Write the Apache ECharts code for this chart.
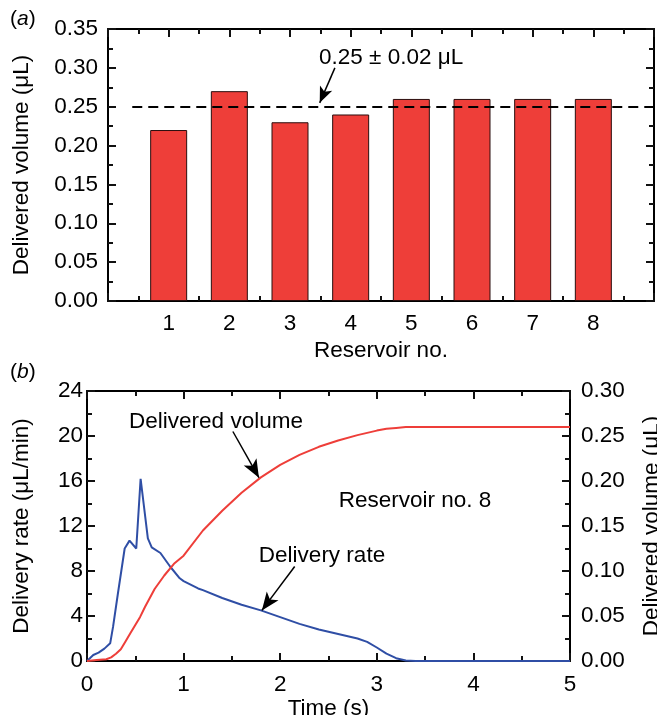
<!DOCTYPE html>
<html>
<head>
<meta charset="utf-8">
<script src="https://cdn.jsdelivr.net/npm/echarts@6/dist/echarts.min.js"></script>
<style>
html,body{margin:0;padding:0;background:#fff;}
#main{width:657px;height:715px;}
</style>
</head>
<body>
<div id="main"></div>
<script>
// ---- Panel (a) data ----
const reservoirs = [1, 2, 3, 4, 5, 6, 7, 8];
const deliveredVolumes = [0.22, 0.27, 0.23, 0.24, 0.26, 0.26, 0.26, 0.26];
const targetVolume = 0.25;
const targetLineStartX = 0.4;
const arrowA = [[3.74, 0.300], [3.49, 0.255]];

// ---- Panel (b) data ----
const rateTime = [0, 0.065, 0.12, 0.18, 0.24, 0.27, 0.32, 0.39, 0.44, 0.51, 0.555, 0.63, 0.67, 0.76, 0.86, 0.96, 1.0, 1.15, 1.2, 1.4, 1.6, 1.8, 2.0, 2.2, 2.4, 2.6, 2.8, 2.9, 3.0, 3.1, 3.2, 3.3, 3.4, 4.0, 5.0];
const rateValues = [0, 0.53, 0.74, 1.1, 1.57, 3.05, 6.0, 10.0, 10.7, 10.0, 16.2, 10.9, 10.1, 9.6, 8.4, 7.35, 7.1, 6.45, 6.3, 5.6, 5.0, 4.5, 3.9, 3.3, 2.8, 2.4, 2.0, 1.7, 1.2, 0.65, 0.25, 0.05, 0, 0, 0];
const volTime = [0, 0.1, 0.2, 0.25, 0.3, 0.35, 0.4, 0.45, 0.5, 0.55, 0.6, 0.7, 0.8, 0.9, 1.0, 1.2, 1.4, 1.6, 1.8, 2.0, 2.2, 2.4, 2.6, 2.8, 3.0, 3.1, 3.2, 3.3, 3.5, 4.0, 5.0];
const volValues = [0, 0.001, 0.002, 0.004, 0.008, 0.013, 0.022, 0.031, 0.040, 0.049, 0.060, 0.080, 0.095, 0.108, 0.117, 0.145, 0.167, 0.187, 0.204, 0.218, 0.229, 0.238, 0.245, 0.251, 0.256, 0.258, 0.259, 0.26, 0.26, 0.26, 0.26];
const arrowVolume = [[1.51, 20.4], [1.78, 16.3]];
const arrowRate = [[2.15, 8.4], [1.81, 4.5]];

const FONT = "'Liberation Sans', Arial, Helvetica, sans-serif";
const FS = 22.5;
const RED = '#EE3E39';
const BLUE = '#2F4EA5';
const TICK = '#111111';

function labelStyle(extra) {
  return Object.assign({ show: true, color: '#000', fontFamily: FONT, fontSize: FS }, extra);
}
function frameAxis(extra) {
  return Object.assign({
    axisLine: { show: true, onZero: false, lineStyle: { color: '#000', width: 2 } },
    axisTick: { show: true, inside: true, length: 8, lineStyle: { color: TICK, width: 2 } },
    minorTick: { show: true, splitNumber: 2, length: 5, lineStyle: { color: TICK, width: 2 } },
    splitLine: { show: false },
    axisLabel: { show: false },
    nameTextStyle: { color: '#000', fontFamily: FONT, fontSize: FS }
  }, extra);
}

const chart = echarts.init(document.getElementById('main'));

const option = {
  animation: false,
  backgroundColor: '#fff',
  textStyle: { fontFamily: FONT },
  grid: [
    { left: 108, top: 29, width: 546, height: 272, outerBoundsMode: 'none' },
    { left: 87, top: 391, width: 483, height: 270, outerBoundsMode: 'none' }
  ],
  xAxis: [
    frameAxis({
      gridIndex: 0, type: 'value', min: 0, max: 9, interval: 1, position: 'bottom',
      name: 'Reservoir no.', nameLocation: 'middle', nameGap: 38,
      axisLabel: labelStyle({ margin: 11, formatter: v => (v >= 1 && v <= 8 ? String(v) : '') })
    }),
    frameAxis({ gridIndex: 0, type: 'value', min: 0, max: 9, interval: 1, position: 'top' }),
    frameAxis({
      gridIndex: 1, type: 'value', min: 0, max: 5, interval: 1, position: 'bottom',
      name: 'Time (s)', nameLocation: 'middle', nameGap: 31,
      axisLabel: labelStyle({ margin: 12 })
    }),
    frameAxis({ gridIndex: 1, type: 'value', min: 0, max: 5, interval: 1, position: 'top' })
  ],
  yAxis: [
    frameAxis({
      gridIndex: 0, type: 'value', min: 0, max: 0.35, interval: 0.05, position: 'left',
      name: 'Delivered volume (μL)', nameLocation: 'middle', nameGap: 75,
      axisLabel: labelStyle({ margin: 10, formatter: v => v.toFixed(2) })
    }),
    frameAxis({ gridIndex: 0, type: 'value', min: 0, max: 0.35, interval: 0.05, position: 'right' }),
    frameAxis({
      gridIndex: 1, type: 'value', min: 0, max: 24, interval: 4, position: 'left',
      name: 'Delivery rate (μL/min)', nameLocation: 'middle', nameGap: 54,
      axisLabel: labelStyle({ margin: 4 })
    }),
    frameAxis({
      gridIndex: 1, type: 'value', min: 0, max: 0.30, interval: 0.05, position: 'right',
      name: 'Delivered volume (μL)', nameLocation: 'middle', nameGap: 70, nameRotate: 90,
      axisLabel: labelStyle({ margin: 11, formatter: v => v.toFixed(2) })
    })
  ],
  series: [
    {
      type: 'bar', xAxisIndex: 0, yAxisIndex: 0,
      data: reservoirs.map((r, i) => [r, deliveredVolumes[i]]),
      barWidth: 37,
      itemStyle: { color: RED, borderColor: '#2a0e0e', borderWidth: 1 },
      markLine: {
        silent: true,
        symbol: ['none', 'none'],
        label: { show: false },
        lineStyle: { color: '#000', width: 2, type: [10, 6] },
        data: [
          [{ coord: [targetLineStartX, targetVolume] }, { coord: [9, targetVolume] }],
          [{ coord: arrowA[0], lineStyle: { type: 'solid', width: 1.5 }, symbol: 'none' },
           { coord: arrowA[1], symbol: 'arrow', symbolSize: [10, 16] }]
        ]
      }
    },
    {
      type: 'line', xAxisIndex: 2, yAxisIndex: 2,
      data: rateTime.map((t, i) => [t, rateValues[i]]),
      showSymbol: false,
      lineStyle: { color: BLUE, width: 2 }, itemStyle: { color: BLUE },
      markLine: {
        silent: true,
        label: { show: false },
        lineStyle: { color: '#000', width: 1.5, type: 'solid' },
        data: [
          [{ coord: arrowVolume[0], symbol: 'none' }, { coord: arrowVolume[1], symbol: 'arrow', symbolSize: [11, 18] }],
          [{ coord: arrowRate[0], symbol: 'none' }, { coord: arrowRate[1], symbol: 'arrow', symbolSize: [11, 18] }]
        ]
      }
    },
    {
      type: 'line', xAxisIndex: 2, yAxisIndex: 3,
      data: volTime.map((t, i) => [t, volValues[i]]),
      showSymbol: false,
      lineStyle: { color: RED, width: 2 }, itemStyle: { color: RED }
    }
  ],
  graphic: [
    { type: 'text', left: 10, top: 9, style: { text: '({i|a})', rich: { i: { fontStyle: 'italic', fontSize: 21, fontFamily: FONT, fill: '#000' } }, font: '21px ' + FONT, fill: '#000' } },
    { type: 'text', left: 10, top: 362, style: { text: '({i|b})', rich: { i: { fontStyle: 'italic', fontSize: 21, fontFamily: FONT, fill: '#000' } }, font: '21px ' + FONT, fill: '#000' } },
    { type: 'text', x: 319, y: 58, style: { text: '0.25 ± 0.02 μL', font: FS + 'px ' + FONT, fill: '#000', align: 'left', verticalAlign: 'middle' } },
    { type: 'text', x: 216, y: 422, style: { text: 'Delivered volume', font: FS + 'px ' + FONT, fill: '#000', align: 'center', verticalAlign: 'middle' } },
    { type: 'text', x: 415, y: 501, style: { text: 'Reservoir no. 8', font: FS + 'px ' + FONT, fill: '#000', align: 'center', verticalAlign: 'middle' } },
    { type: 'text', x: 322, y: 556, style: { text: 'Delivery rate', font: FS + 'px ' + FONT, fill: '#000', align: 'center', verticalAlign: 'middle' } }
  ]
};
chart.setOption(option);
</script>
</body>
</html>
